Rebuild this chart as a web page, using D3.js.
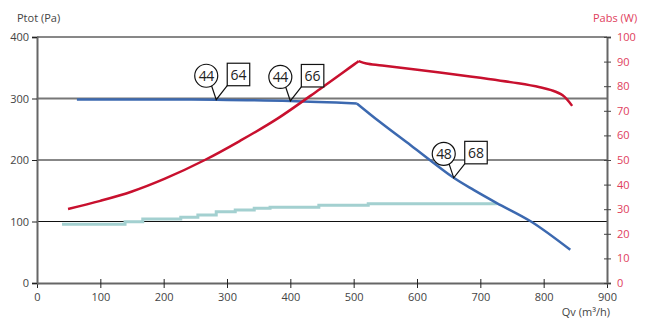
<!DOCTYPE html>
<html><head><meta charset="utf-8">
<script src="https://cdn.jsdelivr.net/npm/d3@7"></script>
<style>body{margin:0;background:#fff}svg{display:block;font-family:"Open Sans",sans-serif}</style>
</head><body><svg id="c" width="651" height="321"></svg>
<script>
const xTicks = [0,100,200,300,400,500,600,700,800,900];
const yLeftTicks = [0,100,200,300,400];
const yRightTicks = [0,10,20,30,40,50,60,70,80,90,100];
// pressure curve (Pa) vs Qv (m3/h)
const pressQv = [63,200,283,400,505];
const pressVal = [298.5,298.5,298,296,292];
const pressQv2 = [505,540,590,658,690,726,780,842];
const pressVal2 = [292,263,224,171,151,130,100,54];
// power curve (W)
const powQvUp = [49,100,150,202,265,320,379,447,508];
const powValUp = [30.1,33.4,37.2,42.4,50,57.7,66.7,78.9,90.2];
const powQvDown = [508,520,545,636,700,760,794,812,830,845];
const powValDown = [90.2,89.2,88.4,85.6,83.4,81.2,79.6,78.4,76.3,72];
// stepped curve (Pa)
const stepQv = [39.5,139,167,227,254,283,313,343,368,445,523,726];
const stepVal = [95.4,99.7,104,107,110.6,116,118.7,121.5,123,126.3,129,129];
// markers
const markQv = [283,400,658];
const markP = [298,296,171];
const markCircle = ["44","44","48"];
const markBox = ["64","66","68"];

const svg = d3.select("#c");
const x = d3.scaleLinear([0,900],[37,607]);
const yL = d3.scaleLinear([0,400],[283,37]);
const yR = d3.scaleLinear([0,100],[283,37]);
const red = "#c8102e", blue = "#3c69b0", teal = "#a3d0d0", redTxt = "#e0405c";

// gridlines
[100,200,400].forEach(v=>svg.append("line").attr("x1",x(0)).attr("x2",x(900)).attr("y1",yL(v)).attr("y2",yL(v)).attr("stroke","#111").attr("stroke-width",1));
svg.append("line").attr("x1",x(0)).attr("x2",x(900)).attr("y1",yL(300)).attr("y2",yL(300)).attr("stroke","#777").attr("stroke-width",2);

// axes
const axB = svg.append("g").attr("transform",`translate(0,${yL(0)})`).call(d3.axisBottom(x).tickValues(xTicks).tickSize(0).tickPadding(10));
const axL = svg.append("g").attr("transform",`translate(${x(0)},0)`).call(d3.axisLeft(yL).tickValues(yLeftTicks).tickSize(5).tickPadding(3));
const axR = svg.append("g").attr("transform",`translate(${x(900)},0)`).call(d3.axisRight(yR).tickValues(yRightTicks).tickSize(4).tickPadding(6));
[axB,axL,axR].forEach(a=>{a.select(".domain").attr("stroke","#666").attr("stroke-width",2);a.selectAll("text").attr("font-family","Open Sans").attr("font-size",11);});
axB.selectAll(".tick line").attr("y1",-4).attr("y2",5).attr("stroke","#222");
axB.selectAll(".tick text").attr("fill","#444");
axL.selectAll(".tick line").attr("stroke","#222");
axL.selectAll(".tick text").attr("fill","#444");
axR.selectAll(".tick line").attr("x1",-3).attr("stroke","#444");
axR.selectAll(".tick text").attr("fill",redTxt);

// titles
svg.append("text").attr("x",17).attr("y",22).attr("font-size",11).attr("fill","#444").text("Ptot (Pa)");
svg.append("text").attr("x",593).attr("y",22).attr("font-size",11).attr("fill",redTxt).text("Pabs (W)");
svg.append("text").attr("x",610).attr("y",316).attr("text-anchor","end").attr("font-size",11).attr("fill","#444").text("Qv (m³/h)");

// stepped curve
const stepData = stepQv.map((d,i)=>[d,stepVal[i]]);
svg.append("path").datum(stepData).attr("fill","none").attr("stroke",teal).attr("stroke-width",3)
  .attr("d",d3.line().x(d=>x(d[0])).y(d=>yL(d[1])).curve(d3.curveStepAfter));

// pressure curve
const lp = d3.line().x(d=>x(d[0])).y(d=>yL(d[1])).curve(d3.curveCatmullRom.alpha(0.5));
svg.append("path").datum(pressQv.map((d,i)=>[d,pressVal[i]])).attr("fill","none").attr("stroke",blue).attr("stroke-width",2.5).attr("d",lp);
svg.append("path").datum(pressQv2.map((d,i)=>[d,pressVal2[i]])).attr("fill","none").attr("stroke",blue).attr("stroke-width",2.5).attr("d",lp);

// power curve
const lw = d3.line().x(d=>x(d[0])).y(d=>yR(d[1])).curve(d3.curveCatmullRom.alpha(0.5));
svg.append("path").datum(powQvUp.map((d,i)=>[d,powValUp[i]])).attr("fill","none").attr("stroke",red).attr("stroke-width",2.5).attr("d",lw);
svg.append("path").datum(powQvDown.map((d,i)=>[d,powValDown[i]])).attr("fill","none").attr("stroke",red).attr("stroke-width",2.5).attr("d",lw);

// markers
markQv.forEach((mq,i)=>{
  const ax = x(mq), ay = yL(markP[i]);
  const g = svg.append("g").attr("transform",`translate(${ax},${ay})`);
  g.append("path").attr("d","M-5,-15 L0,0 L11,-14").attr("fill","none").attr("stroke","#111").attr("stroke-width",1.2);
  g.append("circle").attr("cx",-10).attr("cy",-24).attr("r",11.5).attr("fill","#fff").attr("stroke","#111").attr("stroke-width",1.2);
  g.append("rect").attr("x",11).attr("y",-36.5).attr("width",22.5).attr("height",22.5).attr("fill","#fff").attr("stroke","#111").attr("stroke-width",1.2);
  g.append("text").attr("x",-10).attr("y",-19).attr("text-anchor","middle").attr("font-size",14).attr("fill","#222").attr("letter-spacing",-0.5).text(markCircle[i]);
  g.append("text").attr("x",22.2).attr("y",-20).attr("text-anchor","middle").attr("font-size",14).attr("fill","#222").text(markBox[i]);
});
</script></body></html>
